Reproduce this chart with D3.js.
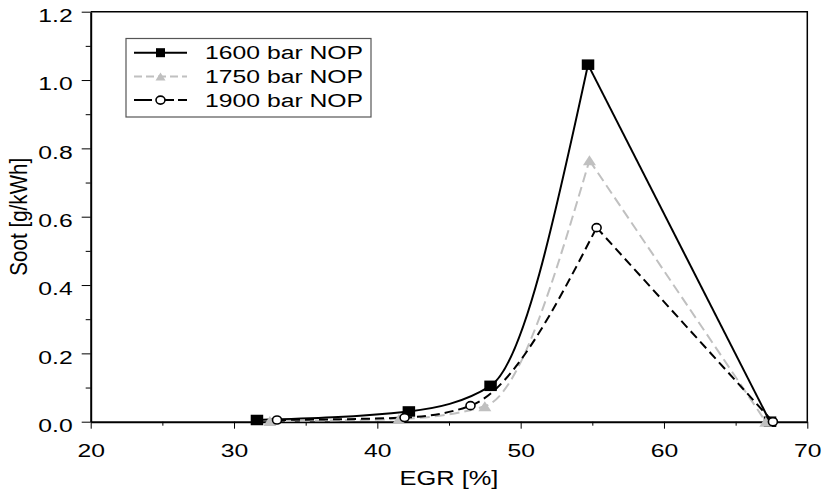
<!DOCTYPE html>
<html>
<head>
<meta charset="utf-8">
<script src="https://cdn.jsdelivr.net/npm/d3@7"></script>
<style>
  body { margin: 0; background: #fff; }
  text { font-family: "Liberation Sans", Arial, sans-serif; fill: #000; }
</style>
</head>
<body>
<script>
// data
const egr1600 = [31.6, 42.2, 47.9, 54.7, 67.4];
const soot1600 = [0.005, 0.03, 0.105, 1.045, 0.0];
const egr1750 = [32.5, 41.5, 47.5, 54.8, 67.1];
const soot1750 = [0.002, 0.008, 0.045, 0.765, 0.0];
const egr1900 = [33.0, 41.9, 46.5, 55.3, 67.6];
const soot1900 = [0.005, 0.012, 0.047, 0.568, 0.0];
const seriesNames = ["1600 bar NOP", "1750 bar NOP", "1900 bar NOP"];
const xTicks = [20, 30, 40, 50, 60, 70];
const yTicks = [0.0, 0.2, 0.4, 0.6, 0.8, 1.0, 1.2];

const width = 823, height = 490;
const sx = 1.33; // text in the picture is stretched sideways

const svg = d3.select("body").append("svg")
              .attr("width", width)
              .attr("height", height);

const x = d3.scaleLinear().domain([20, 70]).range([90.7, 807.3]);
const y = d3.scaleLinear().domain([0, 1.2]).range([421.7, 11.7]);

// frame (top + right)
svg.append("path")
   .attr("d", `M${x(20)},${y(1.2)}H${x(70)}V${y(0)}`)
   .attr("fill", "none").attr("stroke", "#000").attr("stroke-width", 1.5);

// minor ticks
svg.append("g")
   .attr("transform", `translate(0,${y(0)})`)
   .call(d3.axisBottom(x).tickValues(d3.range(25, 70, 10)).tickSize(4).tickFormat(""))
   .call(g => g.select(".domain").remove());
svg.append("g")
   .attr("transform", `translate(${x(20)},0)`)
   .call(d3.axisLeft(y).tickValues(d3.range(0.1, 1.2, 0.2)).tickSize(5).tickFormat(""))
   .call(g => g.select(".domain").remove());

// major axes
const xAxis = svg.append("g")
   .attr("transform", `translate(0,${y(0)})`)
   .call(d3.axisBottom(x).tickValues(xTicks).tickSize(7).tickSizeOuter(0).tickFormat(d3.format("d")));
xAxis.select(".domain").attr("stroke-width", 2);
xAxis.selectAll("text")
     .attr("font-size", 18.6)
     .attr("y", 0).attr("dy", 0)
     .attr("transform", `translate(0,35) scale(${sx},1)`);

const yAxis = svg.append("g")
   .attr("transform", `translate(${x(20)},0)`)
   .call(d3.axisLeft(y).tickValues(yTicks).tickSize(9).tickSizeOuter(0).tickFormat(d3.format(".1f")));
yAxis.select(".domain").attr("stroke-width", 2);
yAxis.selectAll("text")
     .attr("font-size", 18.6)
     .attr("x", 0).attr("dy", 0)
     .attr("transform", `translate(-18,9.7) scale(${sx},1)`);

// axis titles
svg.append("text")
   .attr("text-anchor", "middle")
   .attr("font-size", 20)
   .attr("transform", `translate(${(x(20) + x(70)) / 2},485) scale(1.27,1)`)
   .text("EGR [%]");
svg.append("text")
   .attr("text-anchor", "middle")
   .attr("font-size", 20.6)
   .attr("transform", `translate(27,${(y(0) + y(1.2)) / 2}) scale(1.15,1) rotate(-90)`)
   .text("Soot [g/kWh]");

// series
const series = [
  { name: seriesNames[0], xs: egr1600, ys: soot1600, color: "#000", dash: null, legendDash: null, marker: "square" },
  { name: seriesNames[1], xs: egr1750, ys: soot1750, color: "#c0c0c0", dash: "10,5", legendDash: "8,4", marker: "triangle" },
  { name: seriesNames[2], xs: egr1900, ys: soot1900, color: "#000", dash: "9,5", legendDash: "18,4", marker: "circle" }
];

// smooth rise up to the peak, straight drop after it
const curve = d3.line().x(d => x(d[0])).y(d => y(d[1])).curve(d3.curveMonotoneX);
const straight = d3.line().x(d => x(d[0])).y(d => y(d[1]));

series.forEach(s => {
  const pts = s.xs.map((v, i) => [v, s.ys[i]]);
  const rise = pts.slice(0, 4), fall = pts.slice(3);
  const g = svg.append("g");
  [curve(rise), straight(fall)].forEach(d => {
    g.append("path")
     .attr("d", d)
     .attr("fill", "none")
     .attr("stroke", s.color)
     .attr("stroke-width", 2)
     .attr("stroke-dasharray", s.dash);
  });
});

function drawMarker(g, type, cx, cy, big) {
  if (type === "square") {
    const w = big ? 12.5 : 9, h = big ? 10.5 : 9;
    g.append("rect").attr("x", cx - w / 2).attr("y", cy - h / 2)
     .attr("width", w).attr("height", h).attr("fill", "#000");
  } else if (type === "triangle") {
    const w = big ? 13 : 10, h = big ? 10 : 8;
    g.append("path")
     .attr("d", `M${cx},${cy - h / 2}L${cx + w / 2},${cy + h / 2}L${cx - w / 2},${cy + h / 2}Z`)
     .attr("fill", "#c0c0c0");
  } else {
    g.append("ellipse").attr("cx", cx).attr("cy", cy)
     .attr("rx", 4.5).attr("ry", 4)
     .attr("fill", "#fff").attr("stroke", "#000").attr("stroke-width", 1.6);
  }
}

series.forEach(s => {
  const g = svg.append("g");
  s.xs.forEach((v, i) => drawMarker(g, s.marker, x(v), y(s.ys[i]), true));
});

// legend
const legend = svg.append("g");
legend.append("rect")
      .attr("x", 126).attr("y", 38.5)
      .attr("width", 245).attr("height", 78.5)
      .attr("fill", "#fff").attr("stroke", "#555").attr("stroke-width", 1.2);
series.forEach((s, i) => {
  const cy = 52.7 + i * 23.7;
  legend.append("line")
        .attr("x1", 134).attr("x2", 187).attr("y1", cy).attr("y2", cy)
        .attr("stroke", s.color).attr("stroke-width", 2)
        .attr("stroke-dasharray", s.legendDash);
  drawMarker(legend, s.marker, 160.5, cy, false);
  legend.append("text")
        .attr("font-size", 18.6)
        .attr("transform", `translate(205,${cy + 6.7}) scale(${sx},1)`)
        .text(s.name);
});
</script>
</body>
</html>
